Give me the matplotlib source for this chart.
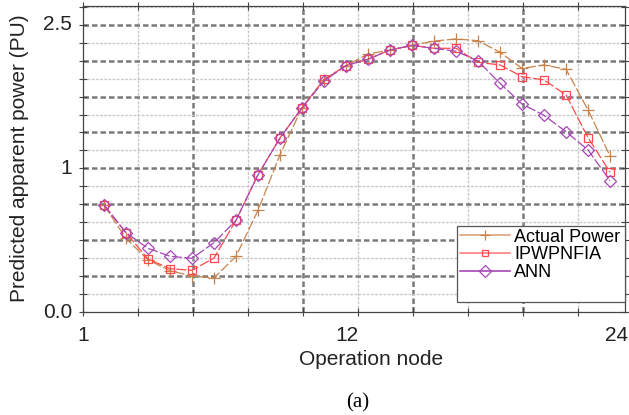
import matplotlib
matplotlib.use("Agg")
import matplotlib.pyplot as plt
import numpy as np
from matplotlib.lines import Line2D

nodes = list(range(1, 25))
actual = [0.93, 0.64, 0.453, 0.36, 0.313, 0.296, 0.485, 0.885, 1.369, 1.778, 2.02, 2.144,
          2.245, 2.28, 2.32, 2.358, 2.376, 2.361, 2.26, 2.12, 2.15, 2.112, 1.758, 1.358]
ipw = [0.93, 0.69, 0.461, 0.377, 0.363, 0.47, 0.798, 1.195, 1.514, 1.778, 2.025, 2.144,
       2.2, 2.28, 2.32, 2.295, 2.295, 2.173, 2.15, 2.048, 2.02, 1.889, 1.517, 1.216]
ann = [0.93, 0.69, 0.554, 0.485, 0.467, 0.603, 0.798, 1.195, 1.514, 1.778, 2.01, 2.144,
       2.2, 2.28, 2.32, 2.295, 2.27, 2.184, 1.99, 1.81, 1.712, 1.569, 1.41, 1.143]
series_names = ["Actual Power", "IPWPNFIA", "ANN"]
xtick_labels = ["1", "12", "24"]
xtick_pos = [0.05, 12.05, 24.3]
ytick_labels = ["0.0", "1", "2.5"]
ytick_pos = [0.0, 1.25, 2.5]

plt.rcParams['font.family'] = ['Liberation Sans', 'DejaVu Sans']

fig = plt.figure(figsize=(6.29, 4.15), dpi=100)
ax = fig.add_axes([83/629, 1-312/415, (625-83)/629, (312-6)/415])

x0, x1 = 0.045, 24.68
y0, y1 = 0.0, 2.663
ax.set_xlim(x0, x1)
ax.set_ylim(y0, y1)

# grid
xstep = 2.5
ystep = 0.15625
xs = np.arange(x0, x1 + 0.01, xstep)
ys = np.arange(0, y1, ystep)
for i, xv in enumerate(xs):
    if i == 0:
        continue
    if i % 2 == 0:
        ax.axvline(xv, color='#7a7a7a', lw=1.8, ls=(0, (2.2, 1.2)), zorder=1)
    else:
        ax.axvline(xv, color='#c8c8c8', lw=1.0, ls=(0, (2, 1)), zorder=1)
for i, yv in enumerate(ys):
    if i == 0:
        continue
    if i % 2 == 0:
        ax.axhline(yv, color='#7a7a7a', lw=1.8, ls=(0, (2.2, 1.2)), zorder=1)
    else:
        ax.axhline(yv, color='#c8c8c8', lw=1.0, ls=(0, (2, 1)), zorder=1)

c_act = '#c8834c'
c_ipw = '#ff4a4a'
c_ann = '#a645b5'
ax.plot(nodes, actual, color=c_act, lw=0.9, ls=(0, (8, 2)), marker='+', ms=9, mew=0.9, zorder=3)
ax.plot(nodes, ipw, color=c_ipw, lw=0.9, ls=(0, (8, 2)), marker='s', ms=6, mfc='none', mew=0.9, zorder=4)
ax.plot(nodes, ann, color=c_ann, lw=0.9, ls=(0, (8, 2)), marker='D', ms=6.5, mfc='none', mew=0.9, zorder=5)

# ticks
ax.set_xticks(xs)
ax.set_xticklabels([])
ax.set_yticks(ys)
ax.set_yticklabels([])
ax.tick_params(direction='inout', length=6, width=0.8, colors='#444444', top=True, right=True)
for s in ax.spines.values():
    s.set_color('#444444')
    s.set_linewidth(0.9)

for p, t in zip(xtick_pos, xtick_labels):
    ax.text(p, -23/306, t, transform=ax.get_xaxis_transform(), ha='center', va='center', fontsize=15, color='#222222')
for p, t in zip(ytick_pos, ytick_labels):
    ax.text(-0.02, p, t, transform=ax.get_yaxis_transform(), ha='right', va='center', fontsize=15, color='#222222')

fig.text(371/629, 1-359/415, "Operation node", ha='center', va='center', fontsize=15, color='#222222')
fig.text(20/629, 1-158/415, "Predicted apparent power (PU)", ha='center', va='center', rotation=90, fontsize=15, color='#222222')
fig.text(358/629, 1-403/415, "(a)", ha='center', va='center', fontsize=15, family='Liberation Serif')

handles = [
    Line2D([], [], color='#dba47c', lw=1.2, marker='+', ms=7, mec=c_act, mew=0.9),
    Line2D([], [], color='#ff8080', lw=1.2, marker='s', ms=5, mfc='none', mec=c_ipw, mew=0.9),
    Line2D([], [], color=c_ann, lw=1.2, marker='D', ms=6, mfc='none', mec=c_ann, mew=0.9),
    Line2D([], [], color='none'),
]
leg = ax.legend(handles, series_names + [""], loc='lower left',
                bbox_to_anchor=((457-83)/542, (312-302)/306, (625-457)/542, (302-223)/306),
                mode='expand', fontsize=13, frameon=True, fancybox=False,
                handlelength=2.8, handletextpad=0.2, labelspacing=0.05, borderpad=0.15,
                borderaxespad=0, framealpha=1)
leg.get_frame().set_edgecolor('#555555')
leg.get_frame().set_linewidth(0.9)
leg.set_zorder(10)

fig.savefig("out.png", dpi=100)
